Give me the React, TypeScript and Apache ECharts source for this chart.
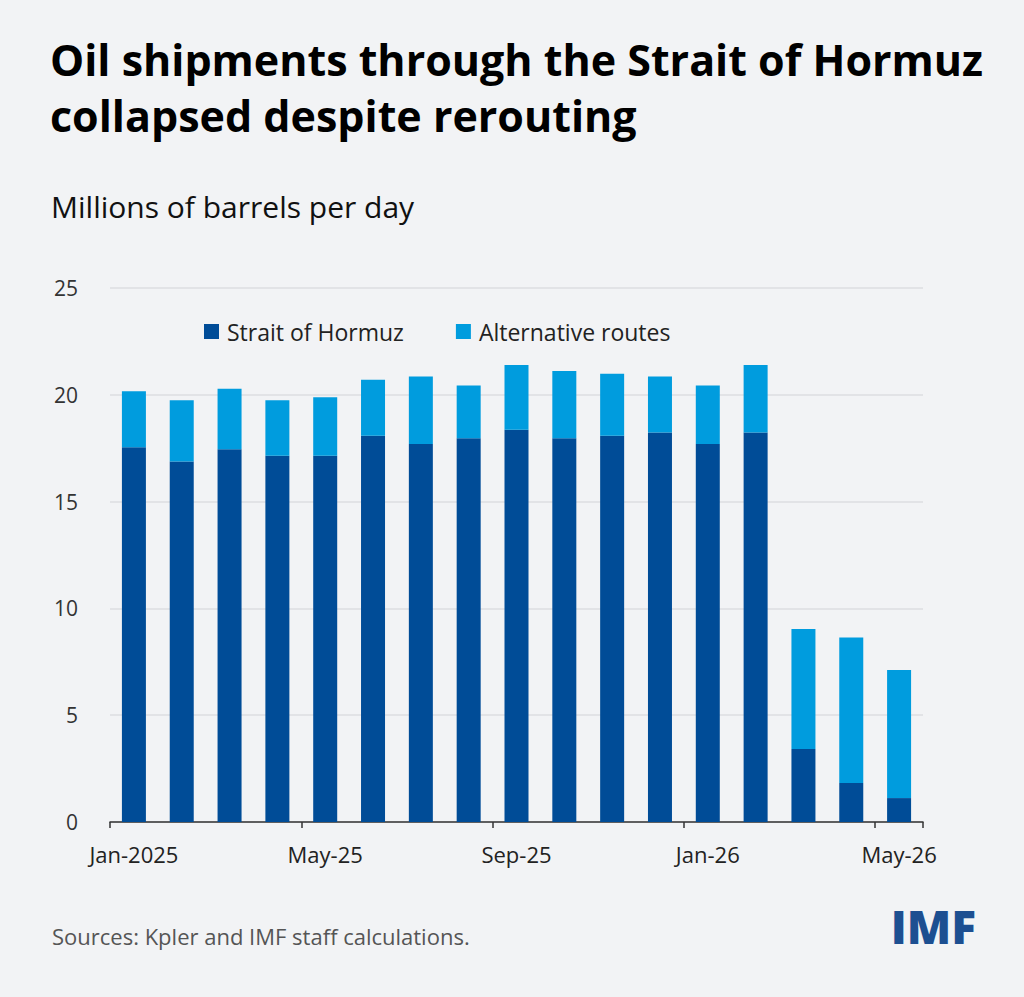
import React, { useEffect, useRef } from "react";
import * as echarts from "echarts";

const categories = [
  "Jan-2025", "Feb-25", "Mar-25", "Apr-25", "May-25", "Jun-25", "Jul-25", "Aug-25",
  "Sep-25", "Oct-25", "Nov-25", "Dec-25", "Jan-26", "Feb-26", "Mar-26", "Apr-26", "May-26",
];
const hormuz = [17.55, 16.88, 17.45, 17.15, 17.15, 18.08, 17.7, 17.97, 18.36, 17.97, 18.08, 18.23, 17.7, 18.23, 3.42, 1.82, 1.12];
const alternative = [2.62, 2.87, 2.83, 2.6, 2.74, 2.62, 3.16, 2.46, 3.04, 3.15, 2.9, 2.63, 2.74, 3.17, 5.62, 6.82, 6.0];
const yTicks = [0, 5, 10, 15, 20, 25];

const DARK = "#004C97";
const LIGHT = "#009CDE";
const FONT = "'Open Sans', Lato, sans-serif";

export default function App() {
  const ref = useRef<HTMLDivElement>(null);
  useEffect(() => {
    if (!ref.current) return;
    const chart = echarts.init(ref.current, undefined, { renderer: "svg" });
    chart.setOption({
      animation: false,
      backgroundColor: "#F2F3F5",
      textStyle: { fontFamily: FONT },
      graphic: [
        { type: "text", left: 50, top: 38, style: { text: "Oil shipments through the Strait of Hormuz", fontSize: 43, fontWeight: "bold", fill: "#000", fontFamily: FONT } },
        { type: "text", left: 50, top: 94, style: { text: "collapsed despite rerouting", fontSize: 43, fontWeight: "bold", fill: "#000", fontFamily: FONT } },
        { type: "text", left: 51, top: 191, style: { text: "Millions of barrels per day", fontSize: 30, fill: "#111", fontFamily: FONT } },
        { type: "text", left: 52, top: 925, style: { text: "Sources: Kpler and IMF staff calculations.", fontSize: 22, fill: "#555", fontFamily: FONT } },
        { type: "text", right: 48, top: 903, style: { text: "IMF", fontSize: 46, fontWeight: 800, fill: "#1D4F91", fontFamily: FONT } },
      ],
      legend: {
        left: 199,
        top: 315,
        itemWidth: 15,
        itemHeight: 15,
        itemGap: 52,
        icon: "rect",
        textStyle: { fontSize: 23, color: "#222", fontFamily: FONT, padding: [0, 0, 0, 3] },
        data: ["Strait of Hormuz", "Alternative routes"],
      },
      grid: { left: 110, right: 101, top: 288, bottom: 175 },
      xAxis: {
        type: "category",
        data: categories,
        boundaryGap: true,
        axisLine: { lineStyle: { color: "#333", width: 1.5 } },
        axisTick: { show: true, interval: 3, alignWithLabel: false, length: 6, lineStyle: { color: "#333", width: 1.5 } },
        axisLabel: { interval: 3, fontSize: 22, color: "#222", margin: 21, fontFamily: FONT },
      },
      yAxis: {
        type: "value",
        min: yTicks[0],
        max: yTicks[yTicks.length - 1],
        interval: 5,
        axisLine: { show: false },
        axisTick: { show: false },
        axisLabel: { fontSize: 21, color: "#333", margin: 32, fontFamily: FONT },
        splitLine: { lineStyle: { color: "#DCDEE1", width: 1.5 } },
      },
      series: [
        { name: "Strait of Hormuz", type: "bar", stack: "total", data: hormuz, barWidth: 24, itemStyle: { color: DARK } },
        { name: "Alternative routes", type: "bar", stack: "total", data: alternative, barWidth: 24, itemStyle: { color: LIGHT } },
      ],
    });
    return () => chart.dispose();
  }, []);
  return <div ref={ref} style={{ position: "fixed", left: 0, top: 0, width: 1024, height: 997 }} />;
}
